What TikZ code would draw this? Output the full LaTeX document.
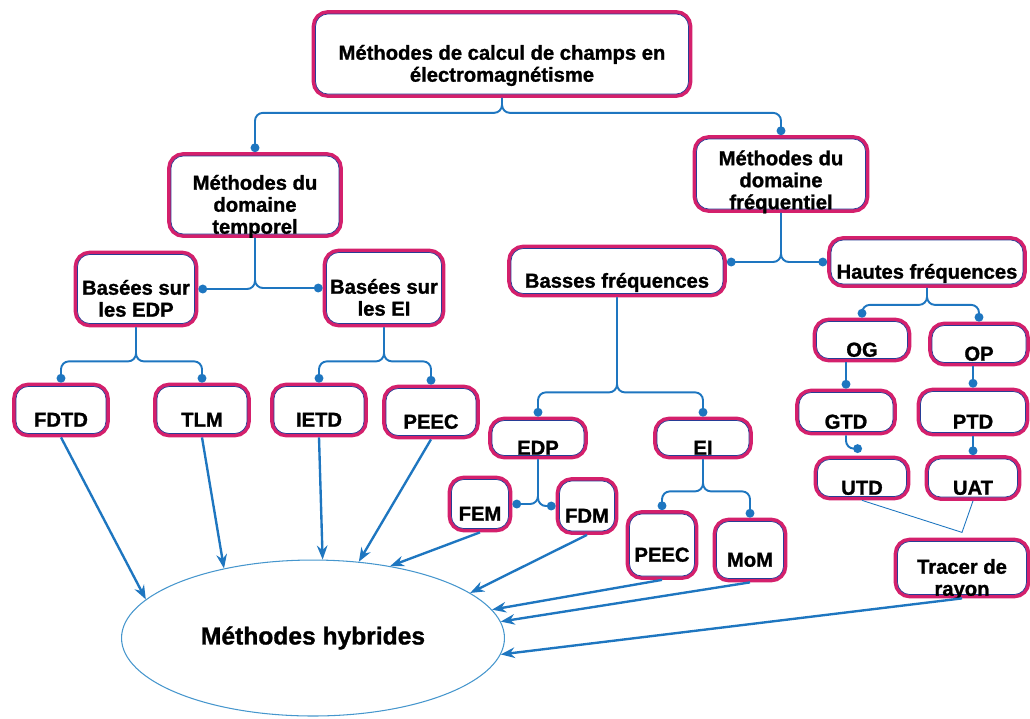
\documentclass[tikz,border=0pt]{standalone}
\usepackage{fontspec}
\setmainfont{Liberation Sans}[BoldFeatures={FakeBold=1.2}]
\usetikzlibrary{shapes.geometric,arrows.meta}

\definecolor{boxred}{RGB}{212,32,108}
\definecolor{boxedge}{RGB}{40,60,150}
\definecolor{linkblue}{RGB}{30,118,192}
\definecolor{ellblue}{RGB}{70,150,205}

% labels sit a bit low in their boxes
\newcommand{\boxtext}[2][-10pt]{\raisebox{#1}[0pt][0pt]{\begin{tabular}{@{}c@{}}#2\end{tabular}}}

\begin{document}
\begin{tikzpicture} [x=0.02cm,y=-0.02cm,>={Stealth[length=8pt,width=6pt]},
			every node/.style={font=\fontsize{11.5}{12.5}\selectfont\bfseries},
			box/.style={draw=boxedge,line width=0.4pt,fill=white,rounded corners=7pt,
				preaction={draw=boxred,line width=4.4pt},outer sep=2.2pt,inner sep=1pt},
			small box/.style={box,minimum width=1.8cm,minimum height=0.94cm},
			link/.style={draw=linkblue,line width=1.1pt,rounded corners=4.5pt,-{Circle[length=5pt]}},
			feed/.style={draw=linkblue,line width=1.35pt,->},
			ray/.style={draw=linkblue,line width=0.5pt},
			hybrid/.style={ellipse,draw=ellblue,line width=0.6pt,font=\fontsize{14}{16}\selectfont\bfseries}]

		\useasboundingbox (0,0) rectangle (1030,718);

		% main tree
		\node [box, minimum width=7.46cm, minimum height=1.6cm] (calc) at (502,54) {\boxtext{Méthodes de calcul de champs en\\électromagnétisme}};
		\node [box, minimum width=3.36cm, minimum height=1.56cm] (temp) at (255,195) {\boxtext{Méthodes du\\domaine\\temporel}};
		\node [box, minimum width=3.38cm, minimum height=1.4cm] (freq) at (781,174) {\boxtext[-8pt]{Méthodes du\\domaine\\fréquentiel}};

		\node [box, minimum width=2.34cm, minimum height=1.38cm] (bedp) at (136,289) {\boxtext{Basées sur\\les EDP}};
		\node [box, minimum width=2.3cm, minimum height=1.42cm] (bei) at (384,288) {\boxtext{Basées sur\\les EI}};
		\node [box, minimum width=4.24cm, minimum height=0.9cm] (basses) at (617,271) {\boxtext{Basses fréquences}};
		\node [box, minimum width=3.84cm, minimum height=0.88cm] (hautes) at (927,262) {\boxtext{Hautes fréquences}};

		\node [small box] (fdtd) at (61,410) {\boxtext{FDTD}};
		\node [small box] (tlm) at (202,410) {\boxtext{TLM}};
		\node [small box] (ietd) at (319,410) {\boxtext{IETD}};
		\node [small box] (peec1) at (431,412) {\boxtext{PEEC}};

		\node [box, minimum width=1.84cm, minimum height=0.7cm] (edp) at (538,438) {\boxtext{EDP}};
		\node [box, minimum width=1.84cm, minimum height=0.7cm] (ei) at (703,438) {\boxtext{EI}};
		\node [box, minimum width=1.14cm, minimum height=0.98cm] (fem) at (480,504) {\boxtext{FEM}};
		\node [box, minimum width=1.1cm, minimum height=1cm] (fdm) at (587,506) {\boxtext{FDM}};
		\node [box, minimum width=1.3cm, minimum height=1.24cm] (peec2) at (662,545) {\boxtext{PEEC}};
		\node [box, minimum width=1.34cm, minimum height=1.14cm] (mom) at (750,550) {\boxtext{MoM}};

		\node [box, minimum width=1.82cm, minimum height=0.74cm] (og) at (862,340) {\boxtext{OG}};
		\node [box, minimum width=1.88cm, minimum height=0.74cm] (op) at (979,344) {\boxtext{OP}};
		\node [box, minimum width=1.88cm, minimum height=0.78cm] (gtd) at (846,412) {\boxtext{GTD}};
		\node [box, minimum width=2.1cm, minimum height=0.82cm] (ptd) at (973,412) {\boxtext{PTD}};
		\node [box, minimum width=1.78cm, minimum height=0.74cm] (utd) at (862,478) {\boxtext{UTD}};
		\node [box, minimum width=1.78cm, minimum height=0.76cm] (uat) at (973,478) {\boxtext{UAT}};
		\node [box, minimum width=2.58cm, minimum height=1.06cm] (tracer) at (962,568) {\boxtext{Tracer de\\rayon}};

		\node [hybrid, minimum width=7.66cm, minimum height=3.12cm] (hyb) at (313,638) {Méthodes hybrides};

		% branches
		\draw [link] (calc.south) -- ++(0,15) -| (temp.north);
		\draw [link] (calc.south) -- ++(0,15) -| (freq.north);
		\draw [link] (temp.south) |- (bedp.east);
		\draw [link] (temp.south) |- (bei.west);
		\draw [link] (freq.south) |- (basses.east |- hautes.west);
		\draw [link] (freq.south) |- (hautes.west);

		\draw [link] (bedp.south) -- ++(0,34) -| (fdtd.north);
		\draw [link] (bedp.south) -- ++(0,34) -| (tlm.north);
		\draw [link] (bei.south) -- ++(0,34) -| (ietd.north);
		\draw [link] (bei.south) -- ++(0,34) -| (peec1.north);
		\draw [link] (basses.south) -- ++(0,95) -| (edp.north);
		\draw [link] (basses.south) -- ++(0,95) -| (ei.north);
		\draw [link] (edp.south) |- (fem.east);
		\draw [link] (edp.south) |- (fdm.west);
		\draw [link] (ei.south) -- ++(0,32) -| (peec2.north);
		\draw [link] (ei.south) -- ++(0,32) -| (mom.north);

		\draw [link] (hautes.south) -- ++(0,17) -| (og.north);
		\draw [link] (hautes.south) -- ++(0,17) -| (op.north);
		\draw [link] (gtd.north |- og.south) -- (gtd.north);
		\draw [link] (ptd.north |- op.south) -- (ptd.north);
		\draw [link] (gtd.south) |- ([yshift=4pt]utd.north);
		\draw [link] (uat.north |- ptd.south) -- (uat.north);

		\coordinate (ray) at ([yshift=3pt]tracer.north);
		\draw [ray] (utd.south) -- (ray) -- (uat.south);

		% everything feeds the hybrid methods
		\draw [feed] (fdtd.south) -- (hyb.167);
		\draw [feed] (tlm.south) -- (hyb.142);
		\draw [feed] (ietd.south) -- (hyb.83);
		\draw [feed] (peec1.south) -- (hyb.59);
		\draw [feed] (fem.south) -- (hyb.43);
		\draw [feed] (fdm.south) -- (hyb.16);
		\draw [feed] (peec2.south) -- (hyb.9);
		\draw [feed] (mom.south) -- (hyb.5);
		\draw [feed] (tracer.south) -- (hyb.355);

		\end{tikzpicture}
\end{document}
